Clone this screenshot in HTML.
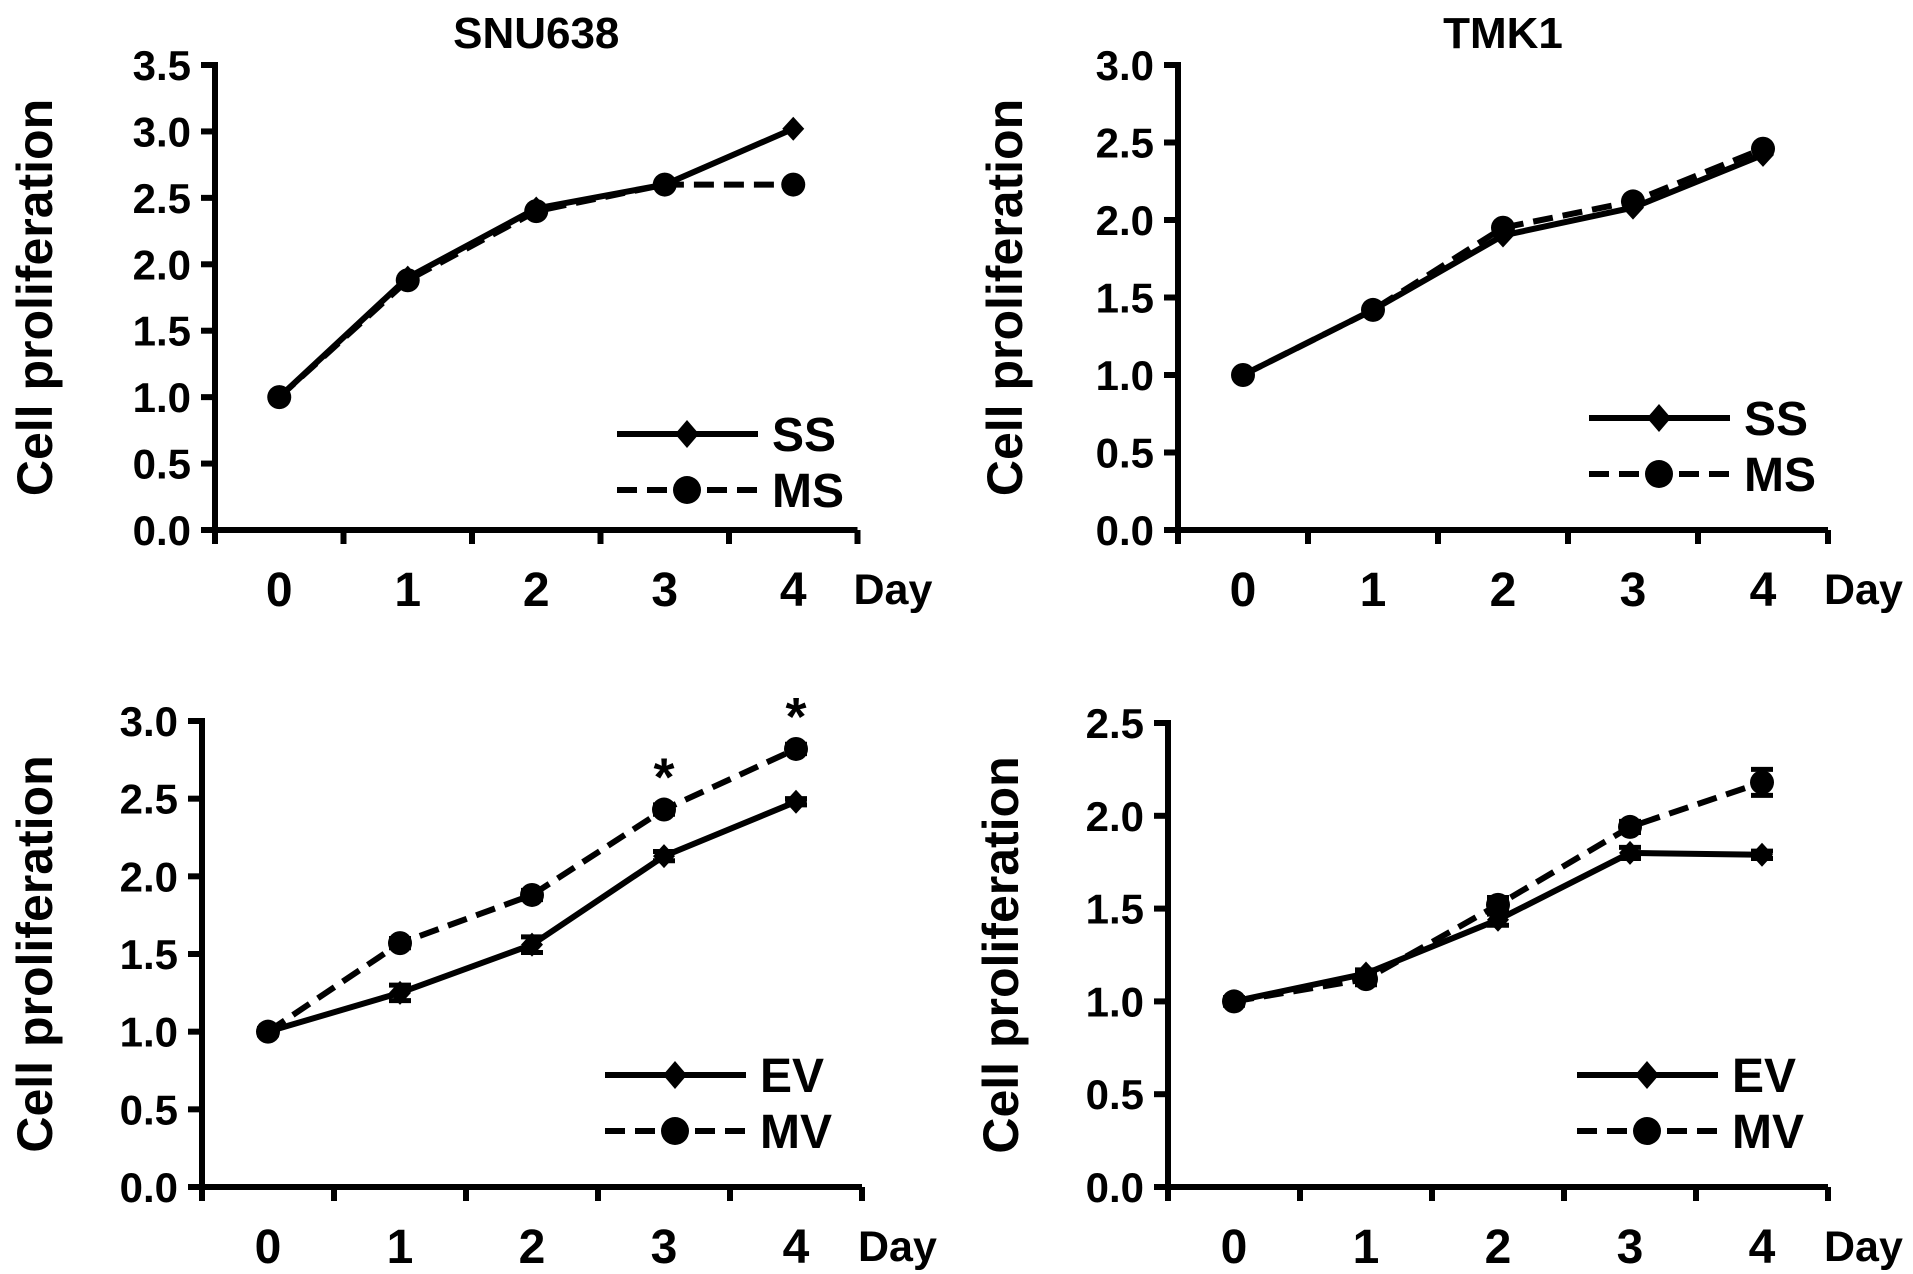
<!DOCTYPE html>
<html><head><meta charset="utf-8"><style>
html,body{margin:0;padding:0;background:#fff}
svg{display:block}
text{font-family:"Liberation Sans",Arial,sans-serif;font-weight:bold;fill:#000}
</style></head><body>
<svg id="fig" width="1913" height="1274" viewBox="0 0 1913 1274" xmlns="http://www.w3.org/2000/svg"></svg>
<script>
const days = ["0","1","2","3","4"];
const tlSS = [1.0,1.9,2.42,2.6,3.02];
const tlMS = [1.0,1.88,2.4,2.6,2.6];
const trSS = [1.0,1.42,1.9,2.08,2.42];
const trMS = [1.0,1.42,1.95,2.12,2.46];
const blEV = [1.0,1.25,1.56,2.13,2.48];
const blMV = [1.0,1.57,1.88,2.43,2.82];
const blEVerr = [0.02,0.05,0.05,0.03,0.02];
const blMVerr = [0.02,0.03,0.03,0.03,0.03];
const brEV = [1.0,1.15,1.44,1.8,1.79];
const brMV = [1.0,1.12,1.52,1.94,2.18];
const brEVerr = [0.02,0.02,0.03,0.03,0.02];
const brMVerr = [0.02,0.03,0.04,0.03,0.07];
const tlTicks = ["0.0","0.5","1.0","1.5","2.0","2.5","3.0","3.5"];
const trTicks = ["0.0","0.5","1.0","1.5","2.0","2.5","3.0"];
const blTicks = ["0.0","0.5","1.0","1.5","2.0","2.5","3.0"];
const brTicks = ["0.0","0.5","1.0","1.5","2.0","2.5"];
const blStars = [3,4];

const NS="http://www.w3.org/2000/svg";
const svg=document.getElementById('fig');
function mk(tag,attrs,parent){const e=document.createElementNS(NS,tag);for(const k in attrs)e.setAttribute(k,attrs[k]);(parent||svg).appendChild(e);return e;}
const DASH='20 10';
function panel(o){
  const g=mk('g',{});
  
  
  const ymax=parseFloat(o.ticks[o.ticks.length-1]);
  const y=v=>o.y0-(v/ymax)*(o.y0-o.yTop);
  const x=i=>o.x0+o.sp*(i+0.5);
  const xr=o.x0+o.sp*5;
  const ya=mk('line',{x1:o.x0,y1:o.yTop-3,x2:o.x0,y2:o.y0+14,stroke:'#000','stroke-width':6},g);
  
  
  const xa=mk('line',{x1:o.x0-14,y1:o.y0,x2:xr,y2:o.y0,stroke:'#000','stroke-width':6},g);
  
  
  for(let i=0;i<=5;i++){mk('line',{x1:o.x0+o.sp*i,y1:o.y0,x2:o.x0+o.sp*i,y2:o.y0+14,stroke:'#000','stroke-width':6},g);}
  o.ticks.forEach(t=>{
    const v=parseFloat(t);
    mk('line',{x1:o.x0-14,y1:y(v),x2:o.x0,y2:y(v),stroke:'#000','stroke-width':6},g);
    const tx=mk('text',{x:o.x0-24,y:y(v)+15,'font-size':42,'text-anchor':'end'},g);
    tx.textContent=t;
    
    
  });
  days.forEach((d,i)=>{
    const tx=mk('text',{x:x(i),y:o.y0+76,'font-size':48,'text-anchor':'middle'},g);
    tx.textContent=d;
    
    
  });
  const day=mk('text',{x:xr-4,y:o.y0+74,'font-size':43},g);
  day.textContent='Day';
  
  
  const yl=mk('text',{x:0,y:0,'font-size':50,'text-anchor':'middle',transform:`translate(${o.yl},${(o.y0+o.yTop)/2}) rotate(-90)`},g);
  yl.textContent='Cell proliferation';
  
  
  if(o.title){const t=mk('text',{x:(o.x0+xr)/2,y:48,'font-size':44,'text-anchor':'middle'},g);t.textContent=o.title;
    
    }
  function series(vals,err,dash,marker,nm){
    const p=mk('polyline',{points:vals.map((v,i)=>x(i)+','+y(v)).join(' '),fill:'none',stroke:'#000','stroke-width':6,'stroke-dasharray':dash?DASH:'none'},g);
    
    
    vals.forEach((v,i)=>{
      if(err){const e=err[i];
        mk('line',{x1:x(i),y1:y(v+e),x2:x(i),y2:y(v-e),stroke:'#000','stroke-width':5},g);
        mk('line',{x1:x(i)-11,y1:y(v+e),x2:x(i)+11,y2:y(v+e),stroke:'#000','stroke-width':5},g);
        mk('line',{x1:x(i)-11,y1:y(v-e),x2:x(i)+11,y2:y(v-e),stroke:'#000','stroke-width':5},g);}
      let m;
      if(marker==='d')m=mk('polygon',{points:`${x(i)},${y(v)-12} ${x(i)+11},${y(v)} ${x(i)},${y(v)+12} ${x(i)-11},${y(v)}`,fill:'#000'},g);
      else m=mk('circle',{cx:x(i),cy:y(v),r:12,fill:'#000'},g);
      
      
    });
  }
  series(o.s2,o.e2,true,'c',o.l2.toLowerCase());
  series(o.s1,o.e1,false,'d',o.l1.toLowerCase());
  [[o.l1,false,'d',o.lgY],[o.l2,true,'c',o.lgY+56]].forEach(([lab,dash,mkr,ly])=>{
    const lg=mk('g',{},g);
    
    
    mk('line',{x1:o.lgX,y1:ly,x2:o.lgX+141,y2:ly,stroke:'#000','stroke-width':6,'stroke-dasharray':dash?DASH:'none'},lg);
    const cx=o.lgX+70;
    if(mkr==='d')mk('polygon',{points:`${cx},${ly-14} ${cx+12},${ly} ${cx},${ly+14} ${cx-12},${ly}`,fill:'#000'},lg);
    else mk('circle',{cx:cx,cy:ly,r:14,fill:'#000'},lg);
    const t=mk('text',{x:o.lgX+155,y:ly+17,'font-size':48},lg);t.textContent=lab;
  });
  if(o.stars){o.stars.forEach(i=>{
    const s=mk('text',{x:x(i),y:y(o.s2[i])-14,'font-size':54,'text-anchor':'middle'},g);s.textContent='*';
    
    });}
}
panel({name:'panel-snu638-ss-ms',title:'SNU638',x0:215,sp:128.5,y0:530,yTop:65,ticks:tlTicks,yl:52,s1:tlSS,s2:tlMS,l1:'SS',l2:'MS',lgX:617,lgY:434});
panel({name:'panel-tmk1-ss-ms',title:'TMK1',x0:1178,sp:130,y0:530,yTop:65,ticks:trTicks,yl:1022,s1:trSS,s2:trMS,l1:'SS',l2:'MS',lgX:1589,lgY:418});
panel({name:'panel-snu638-ev-mv',x0:202,sp:132,y0:1187,yTop:721,ticks:blTicks,yl:52,s1:blEV,s2:blMV,e1:blEVerr,e2:blMVerr,l1:'EV',l2:'MV',lgX:605,lgY:1075,stars:blStars});
panel({name:'panel-tmk1-ev-mv',x0:1168,sp:132,y0:1187,yTop:723,ticks:brTicks,yl:1018,s1:brEV,s2:brMV,e1:brEVerr,e2:brMVerr,l1:'EV',l2:'MV',lgX:1577,lgY:1075});
</script>
</body></html>
